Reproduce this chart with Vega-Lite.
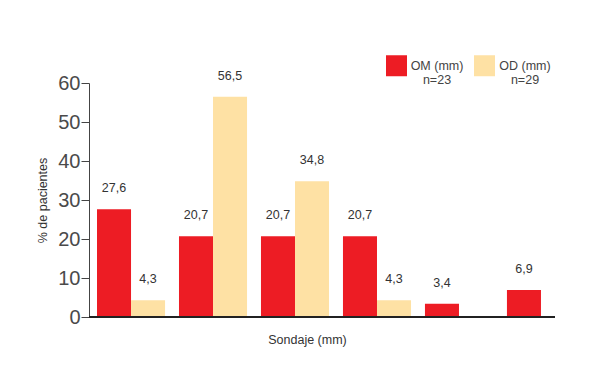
{
  "$schema": "https://vega.github.io/schema/vega-lite/v6.json",
  "autosize": {"type": "none"},
  "padding": {"left": 89, "top": 83, "right": 43, "bottom": 72},
  "width": 466,
  "height": 234,
  "background": "white",
  "config": {
    "view": {"stroke": null},
    "font": "Liberation Sans",
    "axisY": {
      "labelOverlap": false,
      "grid": false,
      "domainColor": "#444444",
      "tickColor": "#444444",
      "tickSize": 8,
      "labelPadding": 1,
      "labelFont": "Liberation Sans",
      "labelFontSize": 20,
      "labelColor": "#4a4a4a",
      "titleFont": "Liberation Sans",
      "titleFontSize": 12.5,
      "titleFontWeight": "normal",
      "titleColor": "#333333",
      "titlePadding": 8
    }
  },
  "data": {
    "values": [
      {"sondaje": "1", "serie": "OM", "pct": 27.6, "label": "27,6"},
      {"sondaje": "1", "serie": "OD", "pct": 4.3, "label": "4,3"},
      {"sondaje": "2", "serie": "OM", "pct": 20.7, "label": "20,7"},
      {"sondaje": "2", "serie": "OD", "pct": 56.5, "label": "56,5"},
      {"sondaje": "3", "serie": "OM", "pct": 20.7, "label": "20,7"},
      {"sondaje": "3", "serie": "OD", "pct": 34.8, "label": "34,8"},
      {"sondaje": "4", "serie": "OM", "pct": 20.7, "label": "20,7"},
      {"sondaje": "4", "serie": "OD", "pct": 4.3, "label": "4,3"},
      {"sondaje": "5", "serie": "OM", "pct": 3.4, "label": "3,4"},
      {"sondaje": "6", "serie": "OM", "pct": 6.9, "label": "6,9"}
    ]
  },
  "layer": [
    {
      "mark": {"type": "bar"},
      "encoding": {
        "x": {
          "field": "sondaje",
          "type": "nominal",
          "scale": {"domain": ["1", "2", "3", "4", "5", "6"], "range": [8, 486], "paddingInner": 0.17, "paddingOuter": 0},
          "axis": {
            "title": "Sondaje (mm)",
            "labels": false,
            "ticks": false,
            "domain": false,
            "titleFont": "Liberation Sans",
            "titleFontSize": 12.5,
            "titleFontWeight": "normal",
            "titleColor": "#333333",
            "titlePadding": 16,
            "titleX": 218
          }
        },
        "xOffset": {"field": "serie", "type": "nominal", "scale": {"domain": ["OM", "OD"], "paddingInner": 0, "paddingOuter": 0}},
        "y": {
          "field": "pct",
          "type": "quantitative",
          "scale": {"domain": [0, 60], "nice": false},
          "axis": {"title": "% de pacientes", "values": [0, 10, 20, 30, 40, 50, 60], "tickCount": 7}
        },
        "color": {
          "field": "serie",
          "type": "nominal",
          "scale": {"domain": ["OM", "OD"], "range": ["#ED1C24", "#FEE1A4"]},
          "legend": {
            "title": null,
            "orient": "none",
            "legendX": 297,
            "legendY": -28,
            "direction": "horizontal",
            "symbolType": "square",
            "symbolSize": 441,
            "symbolStrokeWidth": 0,
            "labelFont": "Liberation Sans",
            "labelFontSize": 12.5,
            "labelColor": "#444444",
            "labelAlign": "center",
            "labelOffset": 30,
            "columnPadding": 10,
            "labelExpr": "datum.label == 'OM' ? ['OM (mm)', 'n=23'] : ['OD (mm)', 'n=29']"
          }
        }
      }
    },
    {
      "mark": {"type": "text", "baseline": "bottom", "dy": -14, "fontSize": 12.5, "color": "#333333", "font": "Liberation Sans"},
      "encoding": {
        "x": {"field": "sondaje", "type": "nominal"},
        "xOffset": {"field": "serie", "type": "nominal"},
        "y": {"field": "pct", "type": "quantitative", "axis": {"title": "% de pacientes", "values": [0, 10, 20, 30, 40, 50, 60], "tickCount": 7}},
        "text": {"field": "label"}
      }
    },
    {
      "mark": {"type": "rule", "color": "#222222", "strokeWidth": 1.5},
      "encoding": {
        "y": {"datum": 0, "type": "quantitative", "axis": {"title": "% de pacientes", "values": [0, 10, 20, 30, 40, 50, 60], "tickCount": 7}}
      }
    }
  ]
}
